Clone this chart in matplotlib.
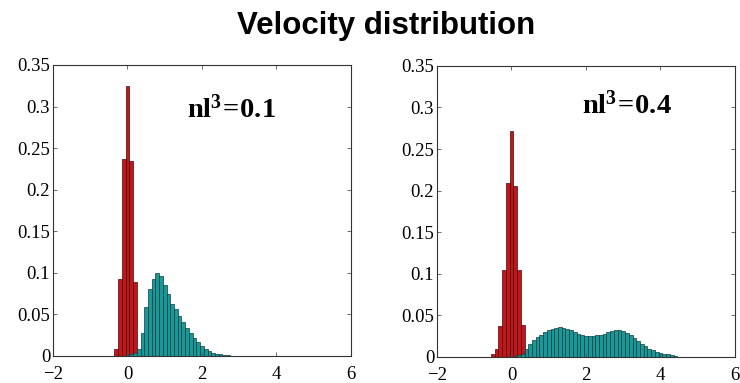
import matplotlib.pyplot as plt
import numpy as np
from matplotlib.ticker import FuncFormatter

plt.rcParams['mathtext.fontset'] = 'custom'
plt.rcParams['mathtext.rm'] = 'Liberation Serif:bold'
plt.rcParams['mathtext.bf'] = 'Liberation Serif:bold'

# bin centres are 0.1 apart
red_x_a = [-0.3, -0.2, -0.1, 0.0, 0.1, 0.2]
red_y_a = [0.009, 0.093, 0.237, 0.325, 0.235, 0.089]

teal_x_a = [0.0, 0.1, 0.2, 0.3, 0.4, 0.5, 0.6, 0.7, 0.8, 0.9, 1.0, 1.1, 1.2,
            1.3, 1.4, 1.5, 1.6, 1.7, 1.8, 1.9, 2.0, 2.1, 2.2, 2.3, 2.4, 2.5,
            2.6, 2.7]
teal_y_a = [0.001, 0.002, 0.004, 0.009, 0.028, 0.059, 0.081, 0.093, 0.0995,
            0.096, 0.085, 0.075, 0.063, 0.056, 0.048, 0.041, 0.034, 0.028,
            0.022, 0.017, 0.012, 0.009, 0.006, 0.004, 0.003, 0.002, 0.001,
            0.001]

red_x_b = [-0.5, -0.4, -0.3, -0.2, -0.1, 0.0, 0.1, 0.2, 0.3]
red_y_b = [0.003, 0.010, 0.037, 0.105, 0.209, 0.272, 0.205, 0.105, 0.038]

teal_x_b = [0.0, 0.1, 0.2, 0.3, 0.4, 0.5, 0.6, 0.7, 0.8, 0.9, 1.0, 1.1, 1.2,
            1.3, 1.4, 1.5, 1.6, 1.7, 1.8, 1.9, 2.0, 2.1, 2.2, 2.3, 2.4, 2.5,
            2.6, 2.7, 2.8, 2.9, 3.0, 3.1, 3.2, 3.3, 3.4, 3.5, 3.6, 3.7, 3.8,
            3.9, 4.0, 4.1, 4.2, 4.3, 4.4, 4.5]
teal_y_b = [0.0005, 0.001, 0.002, 0.004, 0.009, 0.015, 0.020, 0.024, 0.027,
            0.030, 0.032, 0.034, 0.035, 0.0355, 0.035, 0.034, 0.032, 0.030,
            0.028, 0.026, 0.025, 0.025, 0.025, 0.026, 0.027, 0.028, 0.030,
            0.031, 0.032, 0.032, 0.031, 0.029, 0.026, 0.023, 0.019, 0.016,
            0.013, 0.010, 0.008, 0.006, 0.005, 0.004, 0.003, 0.002, 0.001,
            0.0005]

labels = [r'$\mathbf{nl^{3}\!=\!0.1}$', r'$\mathbf{nl^{3}\!=\!0.4}$']
title = 'Velocity distribution'

red = '#c0161c'
teal = '#1a9898'

fig = plt.figure(figsize=(7.4, 3.83), dpi=100)
ax1 = fig.add_axes([0.0716, 0.0705, 0.4027, 0.760])
ax2 = fig.add_axes([0.5905, 0.068, 0.4027, 0.760])

panels = [(ax1, red_x_a, red_y_a, teal_x_a, teal_y_a, labels[0], (1.60, 0.296)),
          (ax2, red_x_b, red_y_b, teal_x_b, teal_y_b, labels[1], (1.90, 0.303))]

fmt = FuncFormatter(lambda v, p: '%g' % round(v, 3))
for ax, rx, ry, tx, ty, lab, pos in panels:
    ax.bar(rx, ry, width=0.1, color=red, edgecolor='#4a0606', linewidth=0.5)
    ax.bar(tx, ty, width=0.1, color=teal, edgecolor='#0c3e3e', linewidth=0.5)
    ax.set_xlim(-2, 6)
    ax.set_ylim(0, 0.35)
    ax.set_xticks([-2, 0, 2, 4, 6])
    ax.set_yticks(np.arange(0, 0.351, 0.05))
    ax.yaxis.set_major_formatter(fmt)
    ax.tick_params(direction='in', top=True, right=True, length=3,
                   width=0.6, color='#555555', labelsize=13.5)
    ax.tick_params(axis='x', pad=7)
    ax.tick_params(axis='y', pad=2)
    for lbl in ax.get_xticklabels() + ax.get_yticklabels():
        lbl.set_family('Liberation Serif')
    for s in ax.spines.values():
        s.set_linewidth(0.8)
        s.set_color('#333333')
    ax.text(pos[0], pos[1], lab, fontsize=20.5, va='center', ha='left')

fig.text(0.522, 0.933, title, family='Liberation Sans', fontsize=22.5,
         fontweight='bold', ha='center', va='center')

fig.savefig('out.png', dpi=100)
